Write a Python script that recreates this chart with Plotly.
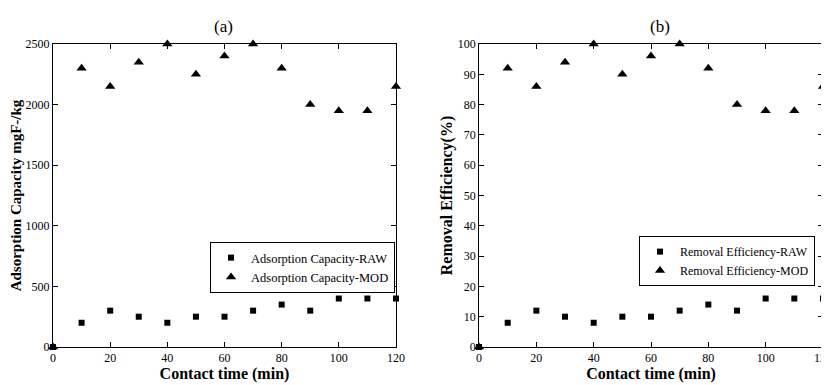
import plotly.graph_objects as go

time_min = [0, 10, 20, 30, 40, 50, 60, 70, 80, 90, 100, 110, 120]
cap_raw = [0, 200, 300, 250, 200, 250, 250, 300, 350, 300, 400, 400, 400]
cap_mod = [0, 2300, 2150, 2350, 2500, 2250, 2400, 2500, 2300, 2000, 1950, 1950, 2150]
eff_raw = [0, 8, 12, 10, 8, 10, 10, 12, 14, 12, 16, 16, 16]
eff_mod = [0, 92, 86, 94, 100, 90, 96, 100, 92, 80, 78, 78, 86]

FONT = "Liberation Serif"
fig = go.Figure()

def add(x, y, name, sym, size, xa, ya, leg):
    fig.add_trace(go.Scatter(x=x, y=y, mode="markers", name=name,
                             marker=dict(symbol=sym, size=size, color="black"),
                             xaxis=xa, yaxis=ya, legend=leg, cliponaxis=False))

add(time_min, cap_raw, "Adsorption Capacity-RAW", "square", 6, "x", "y", "legend")
add(time_min, cap_mod, "Adsorption Capacity-MOD", "triangle-up", 9, "x", "y", "legend")
add(time_min, eff_raw, "Removal Efficiency-RAW", "square", 6, "x2", "y2", "legend2")
add(time_min, eff_mod, "Removal Efficiency-MOD", "triangle-up", 9, "x2", "y2", "legend2")

ax = dict(showline=True, linecolor="black", linewidth=1, mirror="ticks", ticks="inside",
          ticklen=5, tickcolor="black", showgrid=False, zeroline=False,
          tickfont=dict(family=FONT, size=12, color="black"))
xt = dict(text="<b>Contact time (min)</b>", font=dict(family=FONT, size=16, color="black"), standoff=0)

fig.update_layout(
    width=829, height=385,
    margin=dict(l=0, r=0, t=36, b=46, autoexpand=False),
    plot_bgcolor="white", paper_bgcolor="white",
    xaxis=dict(ax, domain=[0.0543, 0.468], range=[0, 120], dtick=20, anchor="y", title=xt),
    yaxis=dict(ax, domain=[0, 1], range=[0, 2500], dtick=500, anchor="x",
               title=dict(text="<b>Adsorption Capacity mgF-/kg</b>",
                          font=dict(family=FONT, size=15, color="black"), standoff=4)),
    xaxis2=dict(ax, domain=[0.5682, 0.9831], range=[0, 120], dtick=20, anchor="y2", title=xt),
    yaxis2=dict(ax, domain=[0, 1], range=[0, 100], dtick=10, anchor="x2",
                title=dict(text="<b>Removal Efficiency(%)</b>",
                           font=dict(family=FONT, size=16, color="black"), standoff=1)),
    legend=dict(x=0.2437, y=0.3465, xanchor="left", yanchor="top", bordercolor="black",
                borderwidth=1, bgcolor="white", font=dict(family=FONT, size=12.5, color="black"),
                tracegroupgap=0, itemwidth=30),
    legend2=dict(x=0.7612, y=0.366, xanchor="left", yanchor="top", bordercolor="black",
                 borderwidth=1, bgcolor="white", font=dict(family=FONT, size=12, color="black"),
                 tracegroupgap=0, itemwidth=30),
    annotations=[
        dict(text="(a)", x=0.246, y=1.0, xref="paper", yref="paper", yanchor="bottom",
             yshift=6, showarrow=False, font=dict(family=FONT, size=17, color="black")),
        dict(text="(b)", x=0.801, y=1.0, xref="paper", yref="paper", yanchor="bottom",
             yshift=6, showarrow=False, font=dict(family=FONT, size=17, color="black")),
    ],
)

fig.write_html("out.html")
